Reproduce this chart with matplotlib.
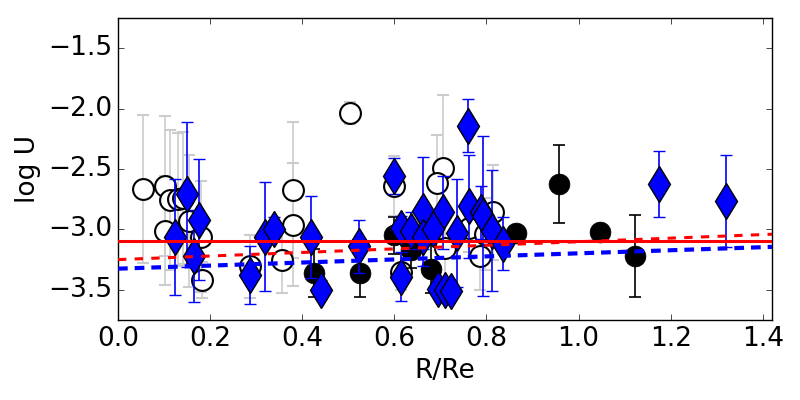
import numpy as np
import matplotlib
matplotlib.use('Agg')
from matplotlib import pyplot as plt

# open circles (grey error bars)
open_r = [0.054, 0.103, 0.113, 0.131, 0.142, 0.103, 0.155, 0.180, 0.183,
          0.287, 0.357, 0.381, 0.381, 0.503, 0.599, 0.706, 0.693, 0.814,
          0.709, 0.785, 0.763, 0.615, 0.796]
open_u = [-2.667, -2.640, -2.760, -2.750, -2.740, -3.010, -2.930, -3.060, -3.420,
          -3.306, -3.250, -2.675, -2.960, -2.036, -2.640, -2.490, -2.620, -2.860,
          -3.150, -3.220, -2.990, -3.350, -3.040]
open_err = [0.61, 0.58, 0.58, 0.55, 0.55, 0.45, 0.55, 0.46, 0.15,
            0.26, 0.28, 0.56, 0.51, 0.09, 0.25, 0.60, 0.40, 0.39,
            0.30, 0.28, 0.20, 0.15, 0.30]

# filled black circles
fill_r = [0.426, 0.525, 0.599, 0.637, 0.679, 0.865, 0.957, 1.047, 1.122]
fill_u = [-3.36, -3.36, -3.05, -3.17, -3.33, -3.03, -2.625, -3.02, -3.22]
fill_err = [0.20, 0.20, 0.15, 0.15, 0.20, 0.05, 0.32, 0.03, 0.34]

# blue diamonds
dia_r = [0.150, 0.176, 0.123, 0.164, 0.287, 0.319, 0.339, 0.418, 0.440,
         0.524, 0.599, 0.760, 0.615, 0.662, 0.705, 0.615, 0.637, 0.662,
         0.684, 0.735, 0.763, 0.789, 0.792, 0.813, 0.835, 0.695, 0.709,
         0.722, 1.174, 1.320]
dia_u = [-2.71, -2.92, -3.06, -3.22, -3.375, -3.06, -3.00, -3.06, -3.50,
         -3.14, -2.555, -2.14, -3.39, -2.85, -2.86, -2.99, -3.01, -3.06,
         -3.00, -3.03, -2.81, -2.86, -2.89, -3.01, -3.12, -3.49, -3.50,
         -3.51, -2.625, -2.764]
dia_err = [0.60, 0.50, 0.48, 0.38, 0.24, 0.45, 0.10, 0.34, 0.08,
           0.22, 0.15, 0.22, 0.20, 0.45, 0.30, 0.10, 0.15, 0.10,
           0.10, 0.45, 0.43, 0.22, 0.66, 0.50, 0.22, 0.05, 0.05,
           0.05, 0.27, 0.38]

# fits: (intercept, slope)
mean_fit = (-3.10, 0.0)
red_fit = (-3.25, 0.148)
blue_fit = (-3.325, 0.127)

plt.style.use('classic')
plt.rcParams['font.size'] = 19

fig = plt.figure(figsize=(8, 4), dpi=100, facecolor='white')
ax = fig.add_axes([0.1475, 0.2, 0.8175, 0.755])

ax.errorbar(open_r, open_u, yerr=open_err, fmt='o', ms=15, mfc='white',
            mec='black', mew=1.5, ecolor='0.8', elinewidth=1.2, capsize=4,
            capthick=1.2, zorder=2)
ax.errorbar(fill_r, fill_u, yerr=fill_err, fmt='o', ms=15, mfc='black',
            mec='black', ecolor='black', elinewidth=1.2, capsize=4,
            capthick=1.2, zorder=3)
ax.errorbar(dia_r, dia_u, yerr=dia_err, fmt='d', ms=18, mfc='blue',
            mec='black', mew=1.0, ecolor='blue', elinewidth=1.2, capsize=4,
            capthick=1.2, zorder=4)

xx = np.array([0.0, 1.42])
ax.plot(xx, mean_fit[0] + mean_fit[1] * xx, '-', color='red', lw=2.2, zorder=6)
ax.plot(xx, red_fit[0] + red_fit[1] * xx, '--', color='red', lw=2.2,
        dashes=(6, 6), zorder=6)
ax.plot(xx, blue_fit[0] + blue_fit[1] * xx, '--', color='blue', lw=3.0,
        dashes=(7, 5), zorder=5)

ax.set_xlim(0, 1.42)
ax.set_ylim(-3.75, -1.25)
ax.set_xticks(np.arange(0, 1.41, 0.2))
ax.set_yticks([-3.5, -3.0, -2.5, -2.0, -1.5])
ax.set_xlabel('R/Re')
ax.set_ylabel('log U')

fig.savefig('out.png', dpi=100, facecolor='white')
